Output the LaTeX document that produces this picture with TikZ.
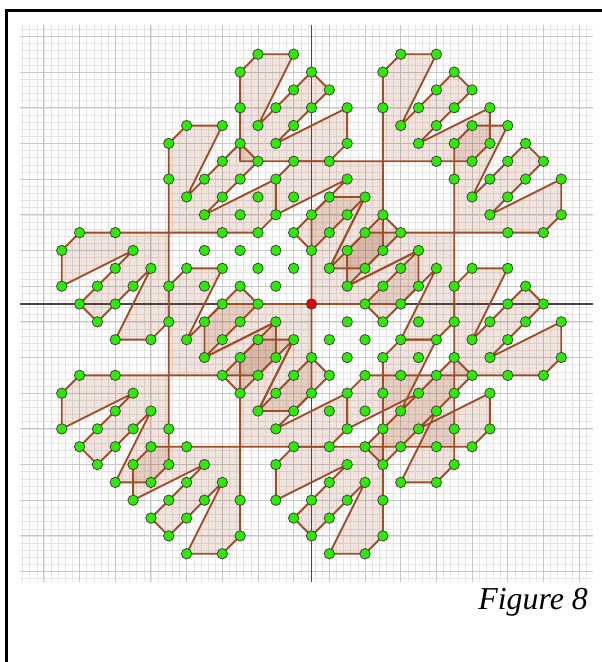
\documentclass[tikz,border=0pt]{standalone}
\usepackage{fontspec}
\setmainfont{Liberation Serif}
\definecolor{tilebrown}{RGB}{153,51,0}
\definecolor{edgebrown}{RGB}{160,78,40}
\definecolor{ptgreen}{RGB}{45,235,0}
\definecolor{ptred}{RGB}{235,0,0}
\definecolor{majorgrid}{RGB}{200,200,200}
\definecolor{minorgrid}{RGB}{228,228,228}
\definecolor{axisgray}{RGB}{70,70,70}
\tikzset{
  tilefill/.style={fill=tilebrown, fill opacity=0.13},
  tileedge/.style={draw=edgebrown, line width=1.9bp, line join=round},
  gdot/.style={fill=ptgreen, draw=black!75, line width=0.8bp},
  rdot/.style={fill=ptred, draw=black!75, line width=0.8bp},
  minorline/.style={draw=minorgrid, line width=0.5bp},
  majorline/.style={draw=majorgrid, line width=0.9bp},
  axisline/.style={draw=axisgray, line width=1.3bp},
  framestyle/.style={draw=black, line width=3bp, line join=miter},
}
\newcommand{\Hpath}{(0,0)--(0,5)--(1,6)--(3,6)--(1,2)--(2,3)--(3,4)--(4,5)--(5,4)--(4,3)--(3,2)--(2,1)--(6,3)--(6,1)--(5,0)--cycle}
\begin{document}
\begin{tikzpicture}[x=17.84bp, y=17.84bp]
\useasboundingbox (-311.5bp,-358bp) rectangle (290.5bp,304bp);
\fill[white] (-311.5bp,-358bp) rectangle (290.5bp,304bp);
% grid
\begin{scope}[shift={(1,1)}]
  \draw[minorline, step=0.4] (-17.34,-16.58) grid (14.78,14.64);
  \draw[majorline, step=2] (-17.34,-16.58) grid (14.78,14.64);
\end{scope}
% axes
\draw[axisline] (-16.34,0) -- (15.78,0);
\draw[axisline] (0,-15.58) -- (0,15.64);
% tile fills
\foreach \a/\b in {0/0,4/8,8/4,-8/4,-4/8,4/-8,8/-4,-4/-8,-8/-4}{
  \path[tilefill, shift={(\a,\b)}] \Hpath;
}
\foreach \a/\b in {0/0,4/8,8/4,-8/4,4/-8,8/-4,-4/-8,-8/-4}{
  \path[tilefill, shift={(\a,\b)}, rotate=180] \Hpath;
}
% tile edges
\foreach \a/\b in {0/0,4/8,8/4,-8/4,-4/8,4/-8,8/-4,-4/-8,-8/-4}{
  \path[tileedge, shift={(\a,\b)}] \Hpath;
}
\foreach \a/\b in {0/0,4/8,8/4,-8/4,4/-8,8/-4,-4/-8,-8/-4}{
  \path[tileedge, shift={(\a,\b)}, rotate=180] \Hpath;
}
% points
\foreach \yy/\xl in {
 14/{-3,-1,5,7},
 13/{-4,0,4,8},
 12/{-1,1,7,9},
 11/{-4,-2,0,2,4,6,8,10},
 10/{-7,-5,-3,-1,5,7,9,11},
 9/{-8,-4,-2,2,6,8,10,12},
 8/{-5,-3,-1,1,7,9,11,13},
 7/{-8,-6,-4,-2,2,8,10,12,14},
 6/{-7,-5,-3,-1,1,3,9,11},
 5/{-6,-4,-2,0,2,4,10,14},
 4/{-13,-11,-5,-3,-1,1,3,5,11,13},
 3/{-14,-10,-6,-4,-2,0,2,4,6},
 2/{-11,-9,-7,-5,-3,-1,1,3,5,7,9,11},
 1/{-14,-12,-10,-8,-6,-4,-2,2,4,6,8,12},
 0/{-13,-11,-5,-3,3,5,11,13},
 -1/{-12,-8,-6,-4,-2,2,4,6,8,10,12,14},
 -2/{-11,-9,-7,-5,-3,-1,1,3,5,7,9,11},
 -3/{-6,-4,-2,0,2,4,6,8,10,14},
 -4/{-13,-11,-5,-3,-1,1,3,5,7,9,11,13},
 -5/{-14,-10,-4,-2,0,2,4,6,8,10},
 -6/{-11,-9,-3,-1,1,3,5,7},
 -7/{-14,-12,-10,-8,-2,2,4,6,8,10},
 -8/{-13,-11,-9,-7,-1,1,3,5,7,9},
 -9/{-12,-10,-8,-6,-2,2,4,8},
 -10/{-11,-9,-7,-5,1,3,5,7},
 -11/{-10,-8,-6,-4,-2,0,2,4},
 -12/{-9,-7,-1,1},
 -13/{-8,-4,0,4},
 -14/{-7,-5,1,3}}{
  \foreach \xx in \xl {
    \path[gdot] (\xx,\yy) circle[radius=5.2bp];
  }
}
\path[rdot] (0,0) circle[radius=5.2bp];
% frame
\draw[framestyle] (-304.8bp,-370bp) -- (-304.8bp,293.2bp) -- (300bp,293.2bp);
% caption
\node[anchor=base east, inner sep=0pt, font=\itshape\fontsize{32}{36}\selectfont] (caption) at (276.5bp,-305.3bp) {Figure 8};
\end{tikzpicture}
\end{document}
